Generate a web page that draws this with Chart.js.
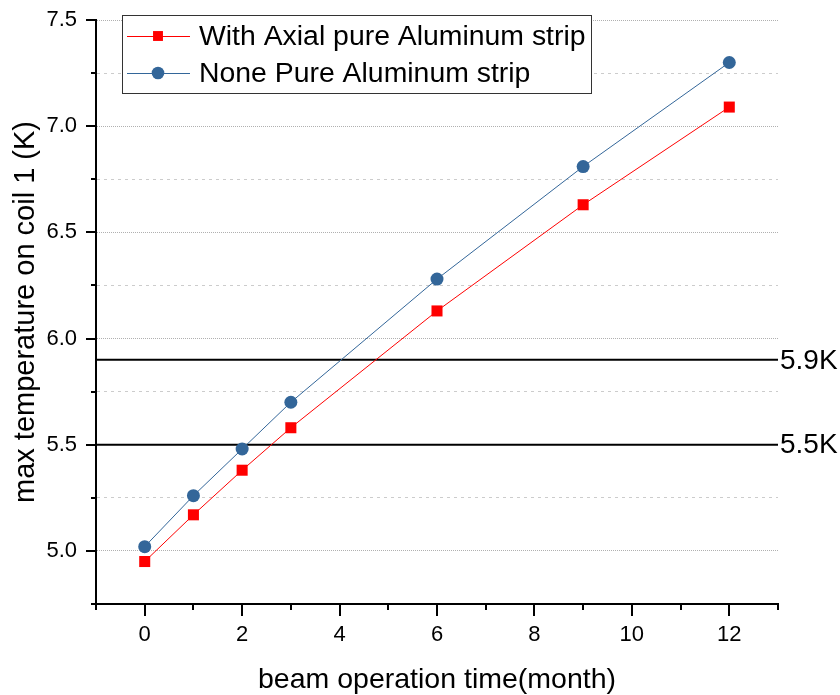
<!DOCTYPE html>
<html lang="en">
<head>
<meta charset="UTF-8">
<title>Max temperature on coil 1</title>
<script src="https://cdn.jsdelivr.net/npm/chart.js@4.4.1/dist/chart.umd.min.js"></script>
<style>
  html, body { margin: 0; padding: 0; background: #fff; }
</style>
</head>
<body>
<canvas id="grafico" width="840" height="695"></canvas>

<script>
    // beam operation time (month)
    var months = [0, 1, 2, 3, 6, 9, 12]
    // max temperature on coil 1 (K)
    var withStrip = [4.95, 5.17, 5.38, 5.58, 6.13, 6.63, 7.09]
    var noneStrip = [5.02, 5.26, 5.48, 5.70, 6.28, 6.81, 7.30]
    var seriesNames = ['With Axial pure Aluminum strip', 'None Pure Aluminum strip']

    // reference temperature lines
    var limitValues = [5.9, 5.5]
    var limitLabels = ['5.9K', '5.5K']

    var xRange = [-1, 13]
    var yRange = [4.75, 7.5]

    var FONT = '"Liberation Sans", Arial, sans-serif'

    function points(ys) {
        return months.map(function (m, i) { return { x: m, y: ys[i] } })
    }

    var datasets = [{
        label: seriesNames[0],
        data: points(withStrip),
        borderColor: '#ff0000',
        backgroundColor: '#ff0000',
        borderWidth: 1,
        pointStyle: 'rect',
        pointRadius: 7.8,
        pointHoverRadius: 7.8,
        pointBorderWidth: 0
    }, {
        label: seriesNames[1],
        data: points(noneStrip),
        borderColor: '#336699',
        backgroundColor: '#336699',
        borderWidth: 1,
        pointStyle: 'circle',
        pointRadius: 6.5,
        pointHoverRadius: 6.5,
        pointBorderWidth: 0
    }]

    limitValues.forEach(function (v, i) {
        datasets.push({
            label: limitLabels[i],
            data: [{ x: xRange[0], y: v }, { x: xRange[1], y: v }],
            borderColor: '#000000',
            borderWidth: 2,
            pointRadius: 0,
            limitLine: true
        })
    })

    function isHalf(v) {
        return Math.abs(v * 2 - Math.round(v * 2)) < 1e-6
    }

    // text at the right end of the reference lines
    var limitText = {
        id: 'limitText',
        afterDatasetsDraw: function (chart) {
            var ctx = chart.ctx
            var ys = chart.scales.y
            ctx.save()
            ctx.font = '28px ' + FONT
            ctx.fillStyle = '#000'
            ctx.textAlign = 'left'
            ctx.textBaseline = 'middle'
            chart.data.datasets.forEach(function (ds) {
                if (!ds.limitLine) return
                ctx.fillText(ds.label, chart.chartArea.right + 2, ys.getPixelForValue(ds.data[0].y) + 1)
            })
            ctx.restore()
        }
    }

    // major / minor tick marks, pointing outwards
    var tickMarks = {
        id: 'tickMarks',
        afterDraw: function (chart) {
            var ctx = chart.ctx
            var xs = chart.scales.x
            var ys = chart.scales.y
            ctx.save()
            ctx.strokeStyle = '#000'
            ctx.lineWidth = 2
            ctx.beginPath()
            xs.ticks.forEach(function (t) {
                var px = Math.round(xs.getPixelForValue(t.value))
                var len = t.label !== '' ? 12 : 6
                ctx.moveTo(px, xs.top)
                ctx.lineTo(px, xs.top + len)
            })
            ys.ticks.forEach(function (t) {
                var py = Math.round(ys.getPixelForValue(t.value))
                var len = t.label !== '' ? 10 : 5
                ctx.moveTo(ys.right, py)
                ctx.lineTo(ys.right - len, py)
            })
            ctx.stroke()
            ctx.restore()
        }
    }

    // boxed legend inside the plot, line + marker samples
    var legendBox = {
        id: 'legendBox',
        afterDraw: function (chart) {
            var ctx = chart.ctx
            var a = chart.chartArea
            var x = a.left + 26
            var y = a.top - 5
            var w = 469
            var h = 78
            ctx.save()
            ctx.fillStyle = '#fff'
            ctx.fillRect(x, y, w, h)
            ctx.strokeStyle = '#333'
            ctx.lineWidth = 1
            ctx.strokeRect(x + 0.5, y + 0.5, w, h)
            ctx.font = '28.4px ' + FONT
            ctx.textBaseline = 'middle'
            var row = 0
            chart.data.datasets.forEach(function (ds) {
                if (ds.limitLine) return
                var cy = y + 21 + row * 37
                ctx.strokeStyle = ds.borderColor
                ctx.lineWidth = 1
                ctx.beginPath()
                ctx.moveTo(x + 5, cy + 0.5)
                ctx.lineTo(x + 68, cy + 0.5)
                ctx.stroke()
                ctx.fillStyle = ds.backgroundColor
                Chart.helpers.drawPoint(ctx, {
                    pointStyle: ds.pointStyle,
                    radius: ds.pointStyle === 'rect' ? 7 : 6.3,
                    borderWidth: 0,
                    rotation: 0
                }, x + 36, cy)
                ctx.fillStyle = '#000'
                ctx.fillText(ds.label, x + 77, cy + 1)
                row++
            })
            ctx.restore()
        }
    }

    const config = {
        type: 'line',
        data: { datasets: datasets },
        options: {
            responsive: false,
            animation: false,
            devicePixelRatio: 1,
            layout: { padding: { top: 17, right: 62, left: 0, bottom: 0 } },
            plugins: {
                legend: { display: false },
                tooltip: { enabled: false }
            },
            scales: {
                x: {
                    type: 'linear',
                    min: xRange[0],
                    max: xRange[1],
                    afterFit: function (s) { s.height = 91 },
                    border: { color: '#000', width: 2 },
                    grid: {
                        drawOnChartArea: false,
                        tickLength: 12,
                        tickColor: 'rgba(0,0,0,0)'
                    },
                    ticks: {
                        stepSize: 1,
                        padding: 6,
                        color: '#000',
                        font: { family: FONT, size: 22 },
                        callback: function (v) {
                            var n = Math.round(v)
                            return (n >= 0 && n % 2 === 0) ? String(n) : ''
                        }
                    },
                    title: {
                        display: true,
                        text: 'beam operation time(month)',
                        color: '#000',
                        padding: 0,
                        font: { family: FONT, size: 28.5, lineHeight: 1.05 }
                    }
                },
                y: {
                    min: yRange[0],
                    max: yRange[1],
                    afterFit: function (s) { s.width = 96 },
                    border: {
                        color: '#000',
                        width: 2,
                        dash: function (c) {
                            return c.tick && isHalf(c.tick.value) ? [1, 1] : [3, 4]
                        }
                    },
                    grid: {
                        tickLength: 10,
                        tickColor: 'rgba(0,0,0,0)',
                        lineWidth: 1,
                        color: function (c) {
                            if (!c.tick || c.index === 0) return 'rgba(0,0,0,0)'
                            return isHalf(c.tick.value) ? '#b0b0b0' : '#cccccc'
                        }
                    },
                    ticks: {
                        stepSize: 0.25,
                        padding: 9,
                        color: '#000',
                        font: { family: FONT, size: 22, lineHeight: 1 },
                        callback: function (v) {
                            return isHalf(v) && v >= 5 ? v.toFixed(1) : ''
                        }
                    },
                    title: {
                        display: true,
                        text: 'max temperature on coil 1 (K)',
                        color: '#000',
                        padding: { top: 9, bottom: 0 },
                        font: { family: FONT, size: 29 }
                    }
                }
            }
        },
        plugins: [limitText, tickMarks, legendBox]
    }

    const grafico = new Chart(document.getElementById('grafico'), config)
</script>
</body>
</html>
